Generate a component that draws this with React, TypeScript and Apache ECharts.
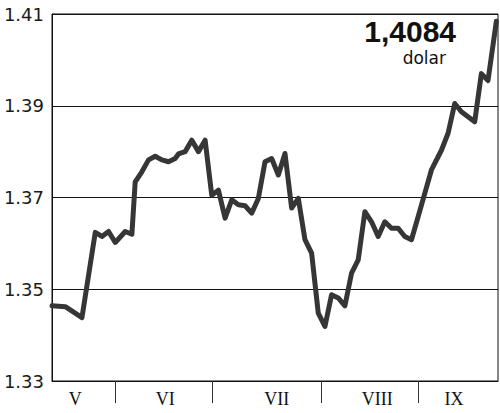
import React, { useEffect, useRef } from "react";
import * as echarts from "echarts";

// x position of each observation (trading-day index from the start of the period)
const dayIndex = [
  0, 4, 9, 13, 15, 17, 19, 22, 24, 25, 26, 27, 29, 31, 33, 35, 37, 38, 40, 42,
  44, 46, 48, 50, 52, 54, 56, 58, 60, 62, 64, 66, 68, 70, 72, 74, 76, 78, 80, 82,
  84, 86, 88, 90, 92, 94, 96, 98, 100, 102, 104, 106, 108, 110, 112, 114, 117, 119, 121, 123,
  127, 129, 131, 133.5,
];
// EUR/USD rate
const rate = [
  1.3464, 1.3462, 1.3438, 1.3624, 1.3615, 1.3626, 1.3602, 1.3626, 1.362, 1.3734, 1.3745, 1.3756, 1.3782, 1.379, 1.3782, 1.3778, 1.3785, 1.3795, 1.38, 1.3825,
  1.38, 1.3825, 1.3705, 1.3716, 1.3655, 1.3695, 1.3684, 1.3682, 1.3666, 1.3698, 1.3778, 1.3785, 1.3749, 1.3796, 1.3677, 1.3698, 1.3608, 1.3579, 1.3448, 1.3419,
  1.3488, 1.3481, 1.3464, 1.3535, 1.3564, 1.3669, 1.3647, 1.3615, 1.3647, 1.3633, 1.3633, 1.3615, 1.3608, 1.3658, 1.3709, 1.376, 1.3803, 1.384, 1.3905, 1.3887,
  1.3865, 1.397, 1.3955, 1.4084,
];
const monthLabels = ["V", "VI", "VII", "VIII", "IX"];
const monthLabelPos = [7, 34, 67.5, 97.7, 120.8];
const monthBoundaries = [19, 48, 81, 110];
const yTicks = { min: 1.33, max: 1.41, interval: 0.02 };
const lastValueText = "1,4084";
const unitText = "dolar";

export default function App() {
  const ref = useRef<HTMLDivElement>(null);
  useEffect(() => {
    if (!ref.current) return;
    document.body.style.margin = "0";
    const chart = echarts.init(ref.current, null, { renderer: "svg" });
    chart.setOption({
      animation: false,
      backgroundColor: "#ffffff",
      grid: {
        left: 52,
        right: 2,
        top: 14,
        bottom: 32,
        show: true,
        borderColor: "#111",
        borderWidth: 1,
        containLabel: false,
      },
      xAxis: {
        type: "value",
        min: 0,
        max: 134,
        axisLine: { show: true, onZero: false, lineStyle: { color: "#111", width: 1 } },
        splitLine: { show: false },
        axisTick: {
          show: true,
          customValues: monthBoundaries,
          length: 22,
          lineStyle: { color: "#333", width: 1 },
        },
        axisLabel: {
          show: true,
          customValues: monthLabelPos,
          margin: 9,
          fontFamily: "Liberation Serif",
          fontSize: 18,
          color: "#111",
          formatter: (v: number) => {
            let best = 0;
            for (let i = 0; i < monthLabelPos.length; i++) {
              if (Math.abs(monthLabelPos[i] - v) < Math.abs(monthLabelPos[best] - v)) best = i;
            }
            return monthLabels[best];
          },
        },
      },
      yAxis: {
        type: "value",
        min: yTicks.min,
        max: yTicks.max,
        interval: yTicks.interval,
        axisLine: { show: true, lineStyle: { color: "#111", width: 1 } },
        axisTick: { show: false },
        splitLine: { show: true, lineStyle: { color: "#111", width: 1 } },
        axisLabel: {
          margin: 8,
          fontFamily: "DejaVu Sans",
          fontSize: 18,
          color: "#1a1a1a",
          formatter: (v: number) => v.toFixed(2),
        },
      },
      series: [
        {
          type: "line",
          data: dayIndex.map((d, i) => [d, rate[i]]),
          showSymbol: false,
          lineStyle: { color: "#363636", width: 5, join: "round", cap: "round" },
          z: 3,
        },
      ],
      graphic: [
        {
          type: "text",
          right: 44,
          top: 16,
          style: {
            text: lastValueText,
            fontFamily: "Liberation Sans",
            fontWeight: "bold",
            fontSize: 30,
            lineHeight: 30,
            fill: "#111",
          },
          z: 10,
        },
        {
          type: "text",
          right: 54,
          top: 49,
          style: {
            text: unitText,
            fontFamily: "DejaVu Sans",
            fontSize: 17,
            lineHeight: 17,
            fill: "#111",
          },
          z: 10,
        },
      ],
    });
    return () => chart.dispose();
  }, []);
  return <div ref={ref} style={{ width: 500, height: 413 }} />;
}
